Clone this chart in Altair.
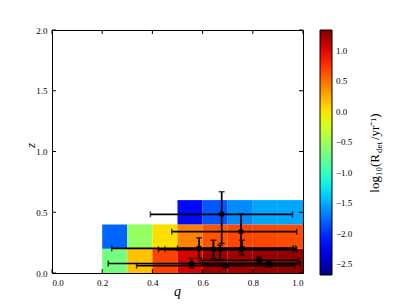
import altair as alt
import numpy as np
import pandas as pd

# ---------------- data ----------------
# heatmap cells (q bin lower edge, z bin lower edge, log10 rate)
cell_q_lo = [0.2, 0.3, 0.4, 0.5, 0.6, 0.7, 0.8, 0.9,
             0.2, 0.3, 0.4, 0.5, 0.6, 0.7, 0.8, 0.9,
             0.5, 0.6, 0.7, 0.8, 0.9]
cell_z_lo = [0.0] * 8 + [0.2] * 8 + [0.4] * 5
cell_val = [-0.70, 0.15, 0.70, 1.05, 1.25, 1.22, 1.27, 1.28,
            -1.78, -0.55, 0.03, 0.42, 0.62, 0.68, 0.68, 0.66,
            -2.20, -1.84, -1.63, -1.52, -1.52]
q_bin = 0.1
z_bin = 0.2

# measured systems with error bars
pt_q = [0.676, 0.753, 0.586, 0.643, 0.670, 0.757, 0.556, 0.692, 0.826, 0.864]
pt_z = [0.483, 0.340, 0.203, 0.195, 0.195, 0.203, 0.078, 0.060, 0.105, 0.077]
pt_q_lo = [0.392, 0.477, 0.238, 0.424, 0.450, 0.500, 0.224, 0.337, 0.590, 0.600]
pt_q_hi = [0.958, 0.975, 0.961, 0.975, 0.960, 0.970, 0.988, 0.968, 0.980, 0.990]
pt_z_lo = [0.244, 0.175, 0.120, 0.120, 0.110, 0.150, 0.040, 0.045, 0.080, 0.050]
pt_z_hi = [0.669, 0.486, 0.290, 0.270, 0.230, 0.270, 0.120, 0.075, 0.130, 0.100]

x_ticks = [0.0, 0.2, 0.4, 0.6, 0.8, 1.0]
y_ticks = [0.0, 0.5, 1.0, 1.5, 2.0]
cbar_ticks = [1.0, 0.5, 0.0, -0.5, -1.0, -1.5, -2.0, -2.5]
cbar_min, cbar_max = -2.68, 1.34

# ---------------- jet colormap ----------------
jet_r = [(0, 0), (0.35, 0), (0.66, 1), (0.89, 1), (1, 0.5)]
jet_g = [(0, 0), (0.125, 0), (0.375, 1), (0.64, 1), (0.91, 0), (1, 0)]
jet_b = [(0, 0.5), (0.11, 1), (0.34, 1), (0.65, 0), (1, 0)]
stops = np.linspace(0, 1, 21)


def chan(seg, t):
    return np.interp(t, [s[0] for s in seg], [s[1] for s in seg])


jet_colors = ["#%02x%02x%02x" % (int(round(255 * chan(jet_r, t))),
                                 int(round(255 * chan(jet_g, t))),
                                 int(round(255 * chan(jet_b, t)))) for t in stops]
jet_domain = list(cbar_min + stops * (cbar_max - cbar_min))

W, H = 251, 243
FONT = "Liberation Serif"

cells = pd.DataFrame({
    "q0": cell_q_lo,
    "z0": cell_z_lo,
    "q1": [q + q_bin for q in cell_q_lo],
    "z1": [z + z_bin for z in cell_z_lo],
    "v": cell_val,
})
pts = pd.DataFrame({"q": pt_q, "z": pt_z, "qlo": pt_q_lo, "qhi": pt_q_hi,
                    "zlo": pt_z_lo, "zhi": pt_z_hi})

xs = alt.Scale(domain=[0, 1], nice=False, zero=False)
ys = alt.Scale(domain=[0, 2], nice=False, zero=False)

heat = alt.Chart(cells).mark_rect(stroke=None).encode(
    x=alt.X("q0:Q", scale=xs, axis=alt.Axis(values=x_ticks, format=".1f", title="q",
                                            titleFontStyle="italic", titleFontSize=14,
                                            titleFont=FONT, titleFontWeight="normal",
                                            titleX=125, titleY=22, titleBaseline="alphabetic")),
    x2="q1:Q",
    y=alt.Y("z0:Q", scale=ys, axis=alt.Axis(values=y_ticks, format=".1f", title="z",
                                            titleFontStyle="italic", titleFontSize=13,
                                            titleFont=FONT, titleFontWeight="normal",
                                            titleX=-22, titleY=115, titleBaseline="middle")),
    y2="z1:Q",
    color=alt.Color("v:Q",
                    scale=alt.Scale(domain=jet_domain, range=jet_colors, interpolate="rgb"),
                    legend=alt.Legend(title=None, orient="right", offset=17,
                                      gradientLength=245, gradientThickness=12,
                                      values=cbar_ticks, format=".1f",
                                      labelFont=FONT, labelFontSize=9, labelColor="black",
                                      labelOffset=4, labelOverlap=False,
                                      gradientStrokeColor="black", gradientStrokeWidth=1,
                                      direction="vertical")),
)

hbar = alt.Chart(pts).mark_rule(color="black", strokeWidth=1.7).encode(
    x=alt.X("qlo:Q", scale=xs), x2="qhi:Q", y=alt.Y("z:Q", scale=ys))
vbar = alt.Chart(pts).mark_rule(color="black", strokeWidth=1.7).encode(
    x=alt.X("q:Q", scale=xs), y=alt.Y("zlo:Q", scale=ys), y2="zhi:Q")
cap_l = alt.Chart(pts).mark_tick(color="black", orient="vertical", size=6, thickness=1.5).encode(
    x=alt.X("qlo:Q", scale=xs), y=alt.Y("z:Q", scale=ys))
cap_r = alt.Chart(pts).mark_tick(color="black", orient="vertical", size=6, thickness=1.5).encode(
    x=alt.X("qhi:Q", scale=xs), y=alt.Y("z:Q", scale=ys))
cap_b = alt.Chart(pts).mark_tick(color="black", orient="horizontal", size=6, thickness=1.5).encode(
    x=alt.X("q:Q", scale=xs), y=alt.Y("zlo:Q", scale=ys))
cap_t = alt.Chart(pts).mark_tick(color="black", orient="horizontal", size=6, thickness=1.5).encode(
    x=alt.X("q:Q", scale=xs), y=alt.Y("zhi:Q", scale=ys))
dots = alt.Chart(pts).mark_circle(color="black", opacity=1, size=30).encode(
    x=alt.X("q:Q", scale=xs), y=alt.Y("z:Q", scale=ys))

xt = pd.DataFrame({"t": x_ticks})
yt = pd.DataFrame({"t": y_ticks})
tick_b = alt.Chart(xt).mark_rule(color="black", strokeWidth=1).encode(
    x=alt.X("t:Q", scale=xs), y=alt.value(H), y2=alt.value(H - 4))
tick_t = alt.Chart(xt).mark_rule(color="black", strokeWidth=1).encode(
    x=alt.X("t:Q", scale=xs), y=alt.value(0), y2=alt.value(4))
tick_l = alt.Chart(yt).mark_rule(color="black", strokeWidth=1).encode(
    y=alt.Y("t:Q", scale=ys), x=alt.value(0), x2=alt.value(4))
tick_r = alt.Chart(yt).mark_rule(color="black", strokeWidth=1).encode(
    y=alt.Y("t:Q", scale=ys), x=alt.value(W), x2=alt.value(W - 4))

one = pd.DataFrame({"a": [0]})
title_x = 323
t1 = alt.Chart(one).mark_text(text="log₁₀(R", angle=270, align="right", baseline="middle",
                              font=FONT, fontSize=13, color="black").encode(
    x=alt.value(title_x), y=alt.value(124))
t2 = alt.Chart(one).mark_text(text="det", angle=270, align="left", baseline="middle",
                              font=FONT, fontSize=9, color="black").encode(
    x=alt.value(title_x + 4), y=alt.value(123))
t3 = alt.Chart(one).mark_text(text="/yr⁻¹)", angle=270, align="left", baseline="middle",
                              font=FONT, fontSize=13, color="black").encode(
    x=alt.value(title_x), y=alt.value(110))

chart = alt.layer(heat, hbar, vbar, cap_l, cap_r, cap_b, cap_t, dots,
                  tick_b, tick_t, tick_l, tick_r, t1, t2, t3).properties(
    width=W, height=H,
    autosize=alt.AutoSizeParams(type="none"),
    padding={"left": 44, "top": 22, "right": 96, "bottom": 30},
).configure_view(stroke="black", strokeWidth=1).configure_axis(
    grid=False, domain=False, ticks=False, labelFont=FONT, labelFontSize=9,
    labelColor="black", labelPadding=5,
)

chart.save("out.html", embed_options={"renderer": "svg", "actions": False})
